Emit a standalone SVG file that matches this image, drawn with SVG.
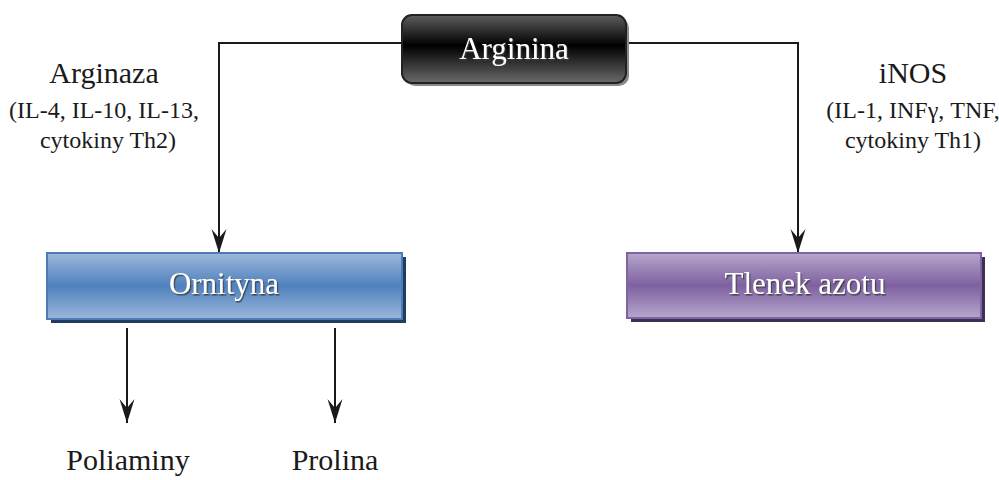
<svg xmlns="http://www.w3.org/2000/svg" width="999" height="480" viewBox="0 0 999 480">
<defs>
<style>
.lbl{font-family:"Liberation Serif","DejaVu Serif",serif;fill:#1a1a1a;text-anchor:middle}
.big{font-size:30px}
.small{font-size:24px}
.box{font-family:"Liberation Serif","DejaVu Serif",serif;font-size:31px;fill:#ffffff;text-anchor:middle;filter:url(#ts)}
.conn{fill:none;stroke:#1a1a1a;stroke-width:2;marker-end:url(#ah)}
</style>
<filter id="ts" x="-10%" y="-20%" width="130%" height="150%">
<feDropShadow dx="1.2" dy="1.5" stdDeviation="0.4" flood-color="#3a3a3a" flood-opacity="0.9"/>
</filter>
<marker id="ah" markerUnits="userSpaceOnUse" viewBox="-26 -10 28 20" refX="0" refY="0" markerWidth="28" markerHeight="20" orient="auto">
<path d="M0,0 L-24,-7.5 L-15,0 L-24,7.5 Z" fill="#1a1a1a"/>
</marker>
<linearGradient id="gBlack" x1="0" y1="0" x2="0" y2="1">
<stop offset="0" stop-color="#5e5e5e"/>
<stop offset="0.45" stop-color="#000000"/>
<stop offset="1" stop-color="#6a6a6a"/>
</linearGradient>
<linearGradient id="gBlue" x1="0" y1="0" x2="0" y2="1">
<stop offset="0" stop-color="#9db8db"/>
<stop offset="0.5" stop-color="#4f81bd"/>
<stop offset="1" stop-color="#9db8db"/>
</linearGradient>
<linearGradient id="gPurple" x1="0" y1="0" x2="0" y2="1">
<stop offset="0" stop-color="#b6a7cc"/>
<stop offset="0.5" stop-color="#7e60a0"/>
<stop offset="1" stop-color="#b6a7cc"/>
</linearGradient>
</defs>
<rect width="999" height="480" fill="#ffffff"/>

<g id="connectors">
<path class="conn" d="M402,43 H219 V253"/>
<path class="conn" d="M626,43 H798 V253"/>
<path class="conn" d="M127,328 V423"/>
<path class="conn" d="M335,328 V423"/>
</g>

<g id="arginina">
<rect x="405" y="18" width="224" height="68" rx="10" fill="#8a8a8a"/>
<rect x="402" y="15" width="224" height="68" rx="10" fill="url(#gBlack)" stroke="#222222" stroke-width="2"/>
<text class="box" x="514" y="59">Arginina</text>
</g>

<g id="ornityna">
<rect x="51" y="257" width="355" height="66" fill="#1f3d63"/>
<rect x="47" y="253" width="355" height="66" fill="url(#gBlue)" stroke="#4a7cb8" stroke-width="2"/>
<text class="box" x="224" y="294">Ornityna</text>
</g>

<g id="tlenek">
<rect x="631" y="257" width="354" height="65" fill="#3e3054"/>
<rect x="627" y="253" width="354" height="65" fill="url(#gPurple)" stroke="#8064a2" stroke-width="2"/>
<text class="box" x="805" y="294">Tlenek azotu</text>
</g>

<g id="arginaza">
<text class="lbl big" x="104" y="83">Arginaza</text>
<text class="lbl small" x="104" y="118">(IL-4, IL-10, IL-13,</text>
<text class="lbl small" x="108" y="148">cytokiny Th2)</text>
</g>

<g id="inos">
<text class="lbl big" x="913" y="83">iNOS</text>
<text class="lbl small" x="913" y="118">(IL-1, INFγ, TNF,</text>
<text class="lbl small" x="913" y="148">cytokiny Th1)</text>
</g>

<g id="poliaminy">
<text class="lbl big" x="128" y="470">Poliaminy</text>
</g>
<g id="prolina">
<text class="lbl big" x="335" y="470">Prolina</text>
</g>
</svg>
